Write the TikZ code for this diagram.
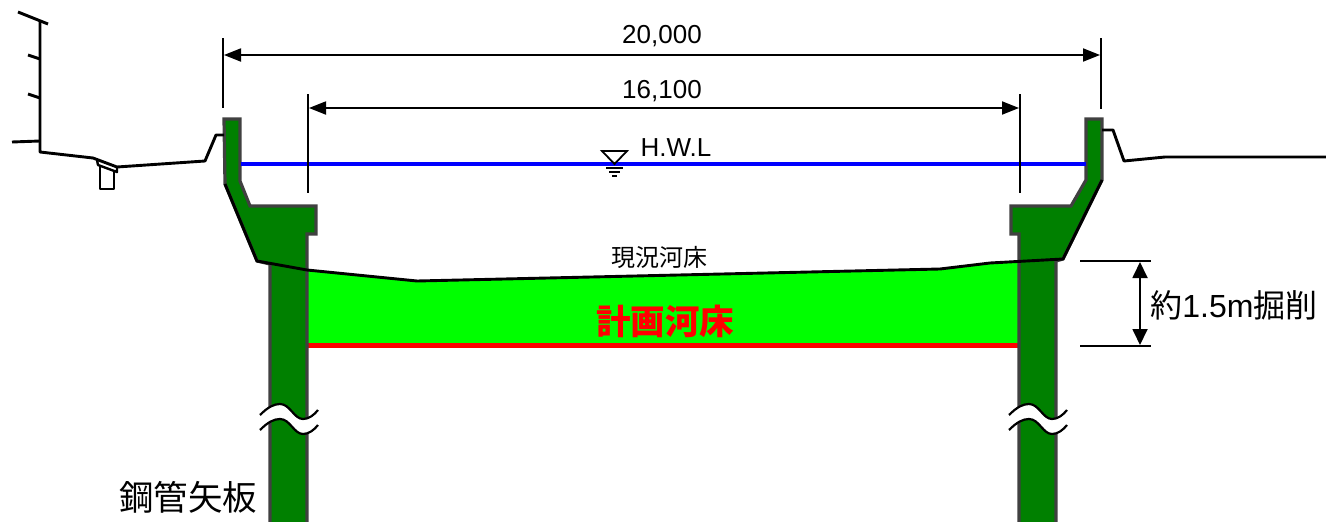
\documentclass[tikz,border=0pt]{standalone}
\usepackage{fontspec}
\setmainfont{Liberation Sans}
\newfontfamily\cjk{Noto Sans CJK JP}
\usetikzlibrary{arrows.meta}
\definecolor{pilegreen}{RGB}{0,128,0}
\definecolor{pileedge}{RGB}{64,64,64}
\tikzset{
  pile/.style={fill=pilegreen,draw=pileedge,line width=3.2pt,line join=miter},
  ground/.style={draw=black,line width=2.9pt,line join=round},
  extline/.style={draw=black,line width=1.8pt},
  dimline/.style={draw=black,line width=1.8pt,{Triangle[length=17pt,width=13pt]}-{Triangle[length=17pt,width=13pt]}},
  label/.style={inner sep=0pt,font=\fontsize{26}{26}\selectfont},
  smalljp/.style={inner sep=0pt,font=\cjk\fontsize{24}{24}\selectfont},
  bigjp/.style={inner sep=0pt,font=\cjk\fontsize{34.5}{34.5}\selectfont},
  wave/.pic={
    \fill[white] (260,415) .. controls (268,407) and (274,404) .. (280,404) .. controls (290,404) and (294,419) .. (303,419)
      .. controls (309,419) and (314,415) .. (318,410) -- (318,425) .. controls (314,430) and (309,434) .. (303,434)
      .. controls (294,434) and (290,419) .. (280,419) .. controls (274,419) and (268,422) .. (260,430) -- cycle;
    \draw[line width=2.2pt] (260,415) .. controls (268,407) and (274,404) .. (280,404) .. controls (290,404) and (294,419) .. (303,419)
      .. controls (309,419) and (314,415) .. (318,410);
    \draw[line width=2.2pt] (260,430) .. controls (268,422) and (274,419) .. (280,419) .. controls (290,419) and (294,434) .. (303,434)
      .. controls (309,434) and (314,430) .. (318,425);
  }
}
\begin{document}
\begin{tikzpicture}
  [x=1pt,y=-1pt]
  \useasboundingbox (0,0) rectangle (1326,522);

  % excavated part and planned bed
  \fill[green] (307,270) -- (417,281) -- (940,269) -- (1019,261) -- (1019,345) -- (307,345) -- cycle;
  \coordinate (bl) at (307,345.5);
  \coordinate (br) at (1019,345.5);
  \draw[red,line width=5pt] (bl) -- (br);

  % sheet piles
  \draw[pile] (224,119) -- (240,119) -- (240,181) -- (250,206) -- (316,206) -- (316,234) -- (307,234) -- (307,535)
    -- (270,535) -- (270,264) -- (257,261) -- (225,184) -- cycle;
  \draw[pile] (1086,119) -- (1102,119) -- (1102,180) -- (1063,259) -- (1056,261) -- (1056,535) -- (1019,535)
    -- (1019,234) -- (1011,234) -- (1011,206) -- (1071,206) -- (1086,180) -- cycle;

  % water level
  \coordinate (w1) at (241,164);
  \coordinate (w2) at (1086,164);
  \draw[blue,line width=3.2pt] (w1) -- (w2);
  \draw[line width=1.8pt,line join=miter] (602,151) -- (627,151) -- (614.5,164) -- cycle;
  \draw[line width=1.8pt] (606,168) -- (623,168) (609,172) -- (620,172) (612,176) -- (617,176);

  % ground on both sides
  \draw[ground] (18,12) -- (48,24);
  \draw[ground] (40,20) -- (40,152) -- (93,158) -- (117,167) -- (205,161) -- (216,135) -- (224,135);
  \draw[ground] (28,55) -- (40,59) (28,94) -- (40,98) (12,142) -- (40,141);
  \draw[ground,line width=2.4pt] (97,160) -- (98,165) -- (117,172) -- (117,167);
  \draw[ground,line width=2.4pt] (100,166) -- (100,189) -- (114,189) -- (114,171);
  \draw[ground] (1102,130) -- (1113,130) -- (1124,161) -- (1165,157) -- (1326,157);

  % outer slopes and existing bed
  \draw[ground,miter limit=2] (225,184) -- (257,261) -- (307,270) -- (417,281) -- (940,269) -- (990,263) -- (1063,259) -- (1102,180);

  % breaks
  \pic at (0,0) {wave};
  \pic at (749,0) {wave};

  % dimensions
  \coordinate (a1) at (223,38);
  \coordinate (a2) at (223,108);
  \coordinate (a3) at (1101,38);
  \coordinate (a4) at (1101,109);
  \coordinate (b1) at (308,94);
  \coordinate (b2) at (308,193);
  \coordinate (b3) at (1020,94);
  \coordinate (b4) at (1020,193);
  \coordinate (c1) at (1080,261);
  \coordinate (c2) at (1151,261);
  \coordinate (c3) at (1080,346);
  \coordinate (c4) at (1151,346);
  \foreach \from/\to in {a1/a2,a3/a4,b1/b2,b3/b4,c1/c2,c3/c4}
    \draw[extline] (\from) -- (\to);
  \coordinate (d1) at (224,55);
  \coordinate (d2) at (1100,55);
  \coordinate (e1) at (309,108);
  \coordinate (e2) at (1019,108);
  \coordinate (f1) at (1140,262);
  \coordinate (f2) at (1140,345);
  \foreach \from/\to in {d1/d2,e1/e2}
    \draw[dimline] (\from) -- (\to);
  \draw[extline,{Triangle[length=16pt,width=15pt]}-{Triangle[length=16pt,width=15pt]}] (f1) -- (f2);

  % labels
  \node[label] (n20000) at (662,36) {20,000};
  \node[label] (n16100) at (662,91) {16,100};
  \node[label] (hwl) at (676,148) {H.W.L};
  \node[smalljp] (bednow) at (659.5,257) {現況河床};
  \node[bigjp,text=red,font=\cjk\bfseries\fontsize{34.5}{34.5}\selectfont] (bedplan) at (665,321) {計画河床};
  \node[inner sep=0pt,font=\fontsize{32}{32}\selectfont] (cut) at (1234,305) {{\cjk 約}1.5m{\cjk 掘削}};
  \node[bigjp] (sheet) at (188,497) {鋼管矢板};
\end{tikzpicture}
\end{document}
